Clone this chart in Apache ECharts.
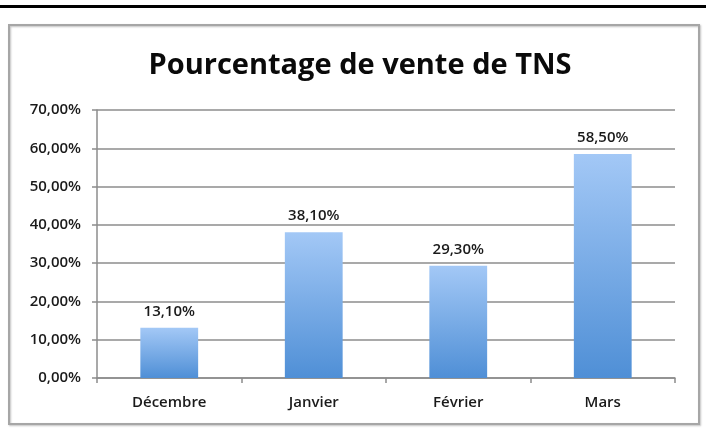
<!DOCTYPE html>
<html>
<head>
<meta charset="utf-8">
<script src="https://cdn.jsdelivr.net/npm/echarts@6/dist/echarts.min.js"></script>
<style>
  html, body { margin: 0; padding: 0; background: #fff; }
  #chart { width: 708px; height: 435px; }
</style>
</head>
<body>
<div id="chart"></div>
<script>
const months = ['Décembre', 'Janvier', 'Février', 'Mars']
const ventePct = [13.1, 38.1, 29.3, 58.5]
const titleText = 'Pourcentage de vente de TNS'

const fmt = (v) => v.toFixed(2).replace('.', ',') + '%'

const chart = echarts.init(document.getElementById('chart'))
chart.setOption({
  animation: false,
  textStyle: { fontFamily: 'Open Sans' },
  title: {
    text: titleText,
    left: 355, top: 46, textAlign: 'center',
    textStyle: { fontFamily: 'Open Sans', fontWeight: 'bold', fontSize: 29, color: '#0a0a0a' },
  },
  graphic: [
    // black rule at the very top
    { type: 'rect', shape: { x: 0, y: 5, width: 706, height: 3 }, style: { fill: '#000' }, silent: true },
    // chart frame
    { type: 'rect', shape: { x: 9, y: 25, width: 690, height: 399 },
      style: { fill: 'none', stroke: '#a6a6a6', lineWidth: 2, shadowColor: 'rgba(0,0,0,0.25)', shadowBlur: 2, shadowOffsetX: 1, shadowOffsetY: 1 },
      silent: true },
  ],
  grid: { left: 97, right: 33, top: 110, bottom: 57 },
  xAxis: {
    type: 'category',
    data: months,
    axisLine: { lineStyle: { color: '#8c8c8c', width: 1.5 } },
    axisTick: { show: true, length: 5, lineStyle: { color: '#8c8c8c', width: 1.5 } },
    axisLabel: { color: '#1a1a1a', fontSize: 15, fontWeight: 600, margin: 17 },
  },
  yAxis: {
    type: 'value',
    min: 0, max: 70, interval: 10,
    axisLine: { show: true, lineStyle: { color: '#8c8c8c', width: 1.5 } },
    axisTick: { show: true, length: 5, lineStyle: { color: '#8c8c8c', width: 1.5 } },
    axisLabel: { color: '#1a1a1a', fontSize: 15, fontWeight: 600, margin: 16, formatter: fmt },
    splitLine: { lineStyle: { color: '#8c8c8c', width: 1.5 } },
  },
  series: [{
    type: 'bar',
    data: ventePct,
    barWidth: '40%',
    itemStyle: {
      color: new echarts.graphic.LinearGradient(0, 0, 0, 1, [
        { offset: 0, color: '#a3c8f6' },
        { offset: 1, color: '#4f8fd6' },
      ]),
    },
    label: {
      show: true, position: 'top', distance: 9,
      color: '#1a1a1a', fontSize: 15, fontWeight: 600,
      formatter: (p) => fmt(p.value),
    },
  }],
})
</script>
</body>
</html>
